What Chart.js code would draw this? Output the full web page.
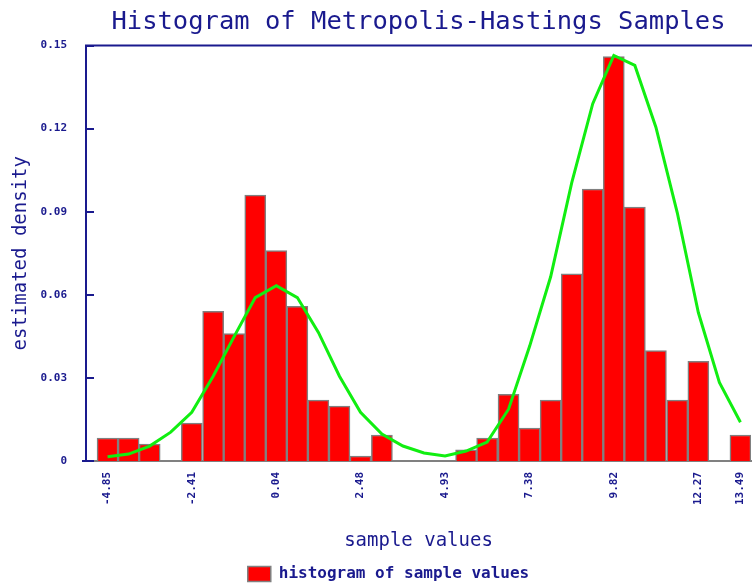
<!DOCTYPE html>
<html lang="en">
<head>
    <meta charset="UTF-8">
    <title>Histogram of Metropolis-Hastings Samples</title>
    <script src="https://cdn.jsdelivr.net/npm/chart.js"></script>
    <style>
        html, body { margin: 0; padding: 0; background: #ffffff; overflow: hidden; }
        .chart-box { width: 752px; height: 583px; }
    </style>
</head>
<body>
    <div class="chart-box">
        <canvas id="histChart"></canvas>
    </div>

    <script>
        // bin centres of the histogram
        const binCenters = [-4.85, -4.24, -3.63, -3.02, -2.41, -1.79, -1.18, -0.57, 0.04, 0.65,
            1.26, 1.87, 2.48, 3.10, 3.71, 4.32, 4.93, 5.54, 6.15, 6.77,
            7.38, 7.99, 8.60, 9.21, 9.82, 10.43, 11.04, 11.66, 12.27, 12.88, 13.49];

        // histogram heights (estimated density)
        const histDensity = [0.0083, 0.0083, 0.0061, 0, 0.0137, 0.054, 0.046, 0.096, 0.076, 0.0558,
            0.022, 0.0198, 0.0018, 0.0094, 0, 0, 0, 0.004, 0.0083, 0.0241,
            0.0119, 0.022, 0.0676, 0.0982, 0.146, 0.0917, 0.0399, 0.022, 0.036, 0, 0.0094];

        // green density curve, one point per bin centre
        const curveDensity = [0.0015, 0.0025, 0.0054, 0.0104, 0.0176, 0.0306, 0.045, 0.059, 0.0633, 0.059,
            0.0464, 0.0306, 0.0176, 0.0097, 0.0054, 0.0029, 0.0018, 0.0036, 0.0068, 0.0187,
            0.0414, 0.0665, 0.1004, 0.129, 0.1464, 0.1428, 0.1205, 0.0896, 0.0536, 0.0284, 0.014];

        const xTickValues = [-4.85, -2.41, 0.04, 2.48, 4.93, 7.38, 9.82, 12.27, 13.49];
        const yTickValues = [0, 0.03, 0.06, 0.09, 0.12, 0.15];

        const navy = '#1a1a8e';

        // top border line + inward ticks on the left axis
        const frameLines = {
            id: 'frameLines',
            afterDraw(chart) {
                const ctx = chart.ctx;
                const area = chart.chartArea;
                const y = chart.scales.y;
                ctx.save();
                ctx.strokeStyle = navy;
                ctx.lineWidth = 2;
                ctx.beginPath();
                ctx.moveTo(area.left - 1, area.top);
                ctx.lineTo(chart.width, area.top);
                yTickValues.forEach(v => {
                    const py = Math.round(y.getPixelForValue(v));
                    ctx.moveTo(area.left, py);
                    ctx.lineTo(area.left + 8, py);
                });
                ctx.moveTo(area.left - 4, area.bottom);
                ctx.lineTo(area.left, area.bottom);
                ctx.stroke();
                ctx.restore();
            }
        };

        new Chart(document.getElementById('histChart'), {
            type: 'bar',
            data: {
                datasets: [{
                    type: 'bar',
                    label: 'histogram of sample values',
                    data: binCenters.map((c, i) => ({ x: c, y: histDensity[i] })),
                    backgroundColor: '#ff0000',
                    borderColor: '#808080',
                    borderWidth: 1.5,
                    barPercentage: 1,
                    categoryPercentage: 1,
                    order: 2
                }, {
                    type: 'line',
                    label: 'density',
                    data: binCenters.map((c, i) => ({ x: c, y: curveDensity[i] })),
                    borderColor: '#11ee11',
                    borderWidth: 3,
                    pointRadius: 0,
                    tension: 0,
                    fill: false,
                    order: 1
                }]
            },
            options: {
                responsive: true,
                maintainAspectRatio: false,
                animation: false,
                layout: { padding: { left: 26, right: 1, top: 0, bottom: -9 } },
                plugins: {
                    title: {
                        display: true,
                        text: 'Histogram of Metropolis-Hastings Samples',
                        color: navy,
                        fullSize: false,
                        font: { family: 'DejaVu Sans Mono', size: 25.5, weight: 'normal', lineHeight: 1 },
                        padding: { top: 10, bottom: 10 }
                    },
                    legend: {
                        position: 'bottom',
                        labels: {
                            filter: item => item.datasetIndex === 0,
                            boxWidth: 23,
                            boxHeight: 15,
                            padding: 10,
                            color: navy,
                            font: { family: 'DejaVu Sans Mono', size: 16, weight: 'bold' }
                        }
                    },
                    tooltip: { enabled: false }
                },
                scales: {
                    x: {
                        type: 'linear',
                        min: -5.475,
                        max: 13.796,
                        offset: false,
                        grid: { display: false, drawTicks: false },
                        border: { display: true, color: '#808080', width: 2 },
                        afterBuildTicks: scale => {
                            scale.ticks = xTickValues.map(v => ({ value: v }));
                        },
                        afterFit: scale => {
                            scale.height = 95;
                            scale.paddingLeft = 0;
                            scale.paddingRight = 0;
                        },
                        ticks: {
                            color: navy,
                            padding: 11,
                            minRotation: 90,
                            maxRotation: 90,
                            autoSkip: false,
                            font: { family: 'DejaVu Sans Mono', size: 11, weight: 'bold' },
                            callback: v => v.toFixed(2)
                        },
                        title: {
                            display: true,
                            text: 'sample values',
                            color: navy,
                            font: { family: 'DejaVu Sans Mono', size: 19 },
                            padding: { top: 0, bottom: 4 }
                        }
                    },
                    y: {
                        min: 0,
                        max: 0.15,
                        grid: { display: false, drawTicks: false },
                        border: { display: true, color: navy, width: 2 },
                        afterBuildTicks: scale => {
                            scale.ticks = yTickValues.map(v => ({ value: v }));
                        },
                        afterFit: scale => { scale.width = 60; },
                        ticks: {
                            color: navy,
                            padding: 19,
                            font: { family: 'DejaVu Sans Mono', size: 11, weight: 'bold' },
                            callback: v => (v === 0 ? '0' : v.toFixed(2))
                        },
                        title: {
                            display: true,
                            text: 'estimated density',
                            color: navy,
                            font: { family: 'DejaVu Sans Mono', size: 19 },
                            padding: { top: -16, bottom: 0 }
                        }
                    }
                }
            },
            plugins: [frameLines]
        });
    </script>
</body>
</html>
